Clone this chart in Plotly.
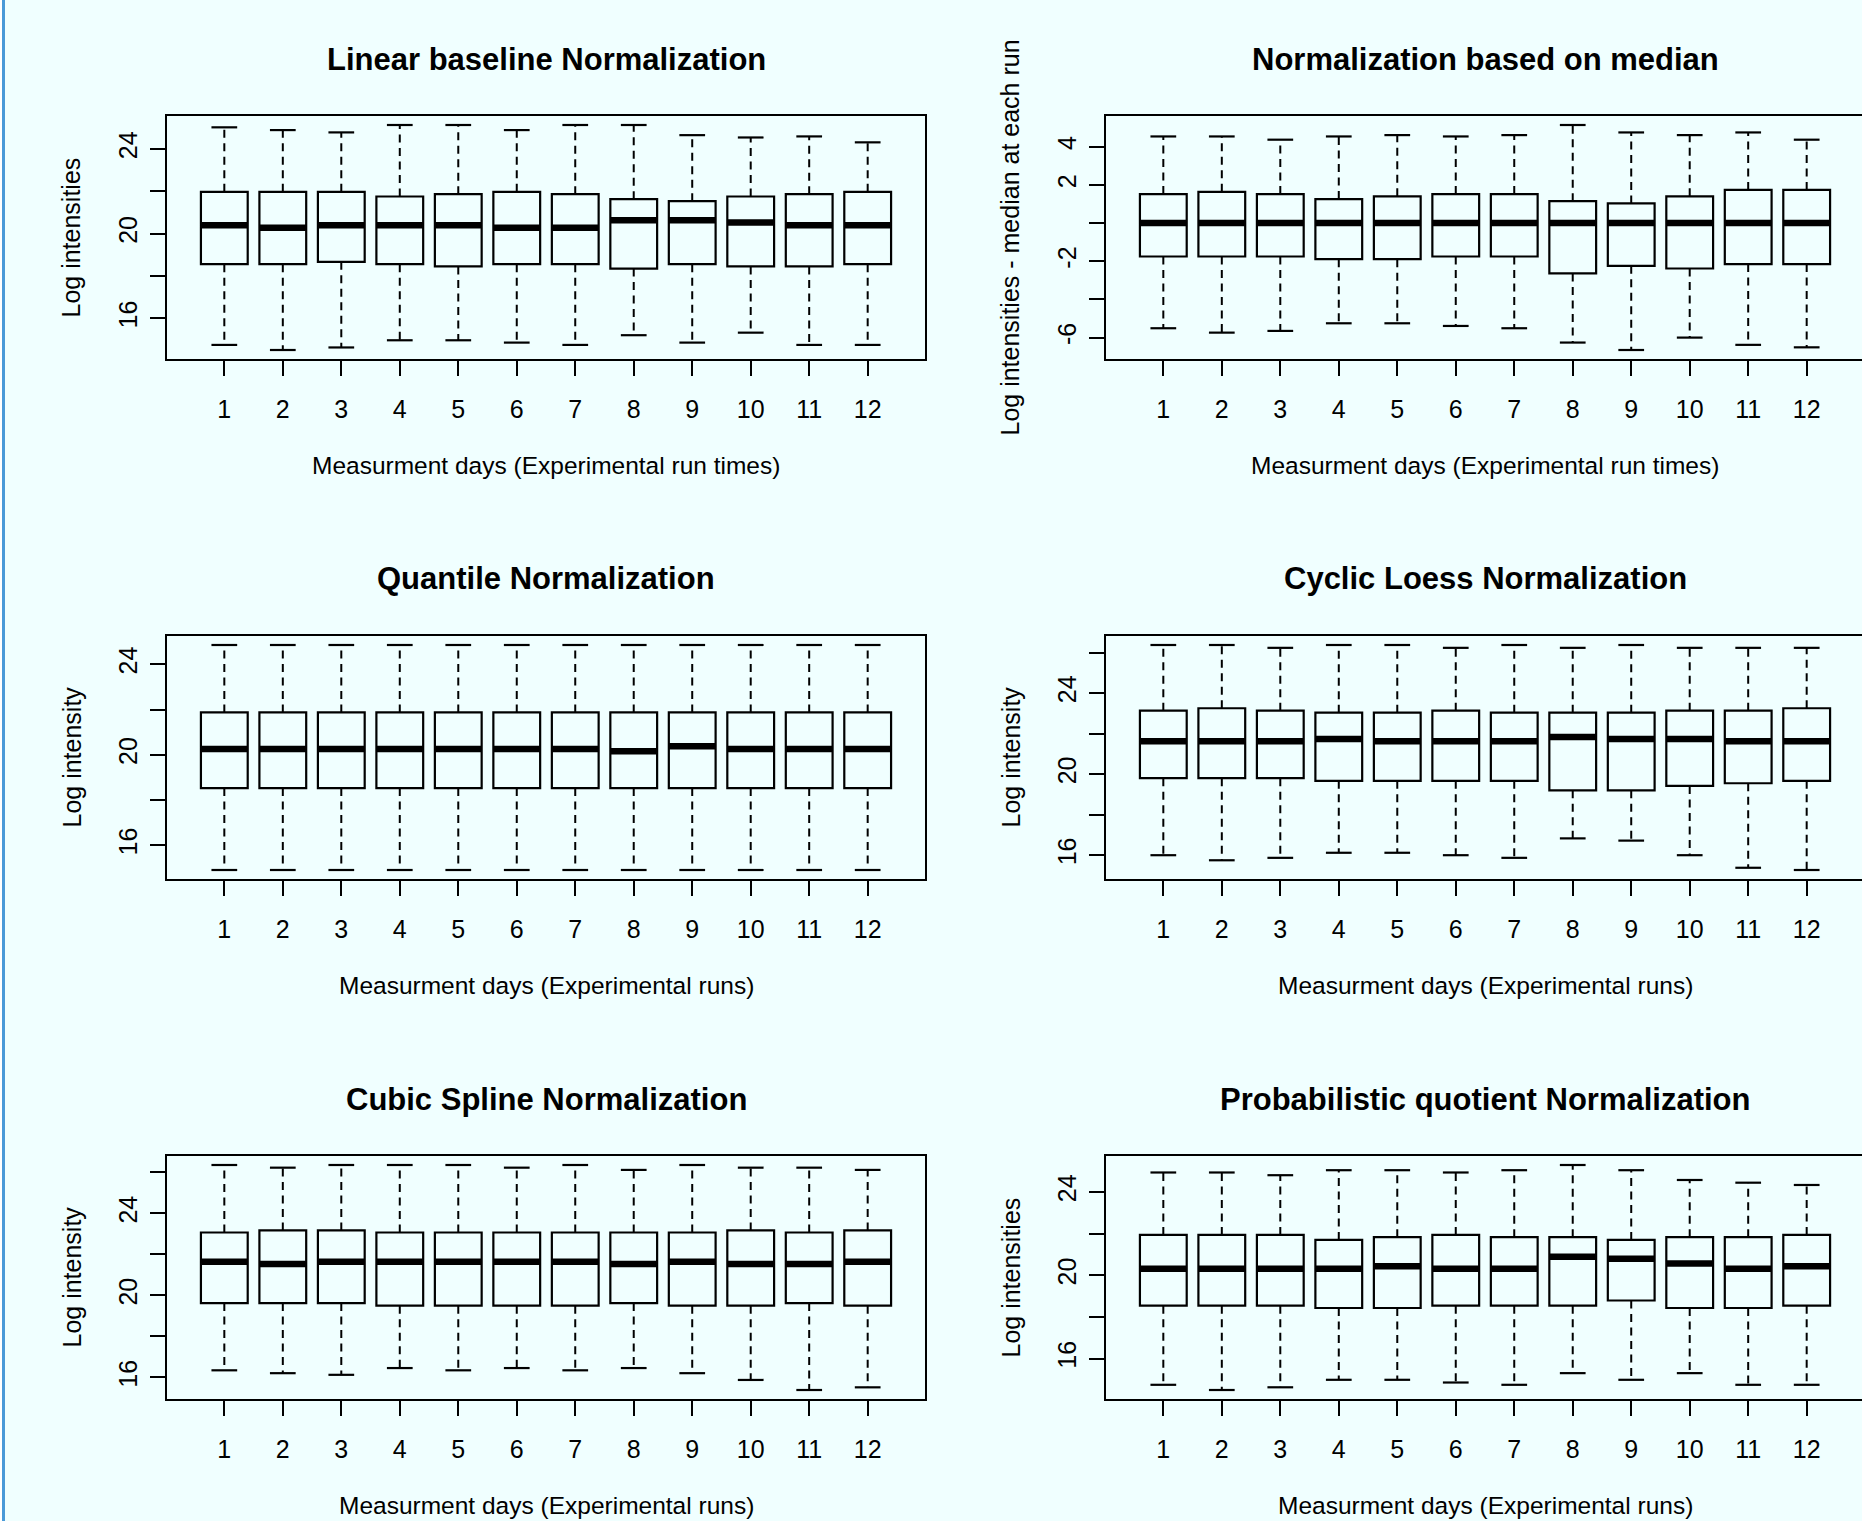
import plotly.graph_objects as go

# ---------------- data ----------------
days = list(range(1, 13))
day_labels = [str(d) for d in days]

titles = [
    "Linear baseline Normalization",
    "Normalization based on median",
    "Quantile Normalization",
    "Cyclic Loess Normalization",
    "Cubic Spline Normalization",
    "Probabilistic quotient Normalization",
]
xlabels = [
    "Measurment days (Experimental run times)",
    "Measurment days (Experimental run times)",
    "Measurment days (Experimental runs)",
    "Measurment days (Experimental runs)",
    "Measurment days (Experimental runs)",
    "Measurment days (Experimental runs)",
]
ylabels = [
    "Log intensities",
    "Log intensities - median at each run",
    "Log intensity",
    "Log intensity",
    "Log intensity",
    "Log intensities",
]

# Linear baseline normalization
lb_hi = [25.03, 24.90, 24.79, 25.14, 25.14, 24.90, 25.14, 25.14, 24.66, 24.55, 24.60, 24.32]
lb_q3 = [21.98, 21.98, 21.98, 21.76, 21.87, 21.98, 21.87, 21.63, 21.54, 21.76, 21.87, 21.98]
lb_med = [20.40, 20.28, 20.40, 20.40, 20.40, 20.28, 20.28, 20.64, 20.64, 20.53, 20.40, 20.40]
lb_q1 = [18.56, 18.56, 18.67, 18.56, 18.45, 18.56, 18.56, 18.35, 18.56, 18.45, 18.45, 18.56]
lb_lo = [14.74, 14.50, 14.62, 14.96, 14.96, 14.85, 14.74, 15.20, 14.85, 15.32, 14.74, 14.74]

# Median-based normalization
md_hi = [4.54, 4.54, 4.37, 4.54, 4.61, 4.54, 4.61, 5.14, 4.75, 4.61, 4.75, 4.37]
md_q3 = [1.52, 1.64, 1.52, 1.26, 1.40, 1.52, 1.52, 1.15, 1.03, 1.40, 1.74, 1.74]
md_med = [0.0, 0.0, 0.0, 0.0, 0.0, 0.0, 0.0, 0.0, 0.0, 0.0, 0.0, 0.0]
md_q1 = [-1.75, -1.75, -1.75, -1.89, -1.89, -1.75, -1.75, -2.64, -2.24, -2.38, -2.15, -2.15]
md_lo = [-5.51, -5.74, -5.65, -5.25, -5.25, -5.39, -5.51, -6.26, -6.65, -6.00, -6.38, -6.51]

# Quantile normalization
qn_hi = [24.85, 24.85, 24.85, 24.85, 24.85, 24.85, 24.85, 24.85, 24.85, 24.85, 24.85, 24.85]
qn_q3 = [21.87, 21.87, 21.87, 21.87, 21.87, 21.87, 21.87, 21.87, 21.87, 21.87, 21.87, 21.87]
qn_med = [20.26, 20.26, 20.26, 20.26, 20.26, 20.26, 20.26, 20.16, 20.38, 20.26, 20.26, 20.26]
qn_q1 = [18.53, 18.53, 18.53, 18.53, 18.53, 18.53, 18.53, 18.53, 18.53, 18.53, 18.53, 18.53]
qn_lo = [14.91, 14.91, 14.91, 14.91, 14.91, 14.91, 14.91, 14.91, 14.91, 14.91, 14.91, 14.91]

# Cyclic loess normalization
cl_hi = [26.37, 26.37, 26.23, 26.37, 26.37, 26.23, 26.37, 26.23, 26.37, 26.23, 26.23, 26.23]
cl_q3 = [23.13, 23.25, 23.13, 23.03, 23.03, 23.13, 23.03, 23.03, 23.03, 23.13, 23.13, 23.25]
cl_med = [21.62, 21.62, 21.62, 21.73, 21.62, 21.62, 21.62, 21.83, 21.73, 21.73, 21.62, 21.62]
cl_q1 = [19.80, 19.80, 19.80, 19.67, 19.67, 19.67, 19.67, 19.20, 19.20, 19.42, 19.55, 19.67]
cl_lo = [16.00, 15.75, 15.87, 16.12, 16.12, 16.00, 15.87, 16.83, 16.72, 16.00, 15.38, 15.27]

# Cubic spline normalization
cs_hi = [26.36, 26.23, 26.36, 26.36, 26.36, 26.23, 26.36, 26.12, 26.36, 26.23, 26.23, 26.12]
cs_q3 = [23.07, 23.17, 23.17, 23.07, 23.07, 23.07, 23.07, 23.07, 23.07, 23.17, 23.07, 23.17]
cs_med = [21.64, 21.53, 21.64, 21.64, 21.64, 21.64, 21.64, 21.53, 21.64, 21.53, 21.53, 21.64]
cs_q1 = [19.63, 19.63, 19.63, 19.50, 19.50, 19.50, 19.50, 19.63, 19.50, 19.50, 19.63, 19.50]
cs_lo = [16.35, 16.21, 16.13, 16.46, 16.35, 16.46, 16.35, 16.46, 16.21, 15.88, 15.39, 15.52]

# Probabilistic quotient normalization
pq_hi = [24.94, 24.94, 24.81, 25.05, 25.05, 24.94, 25.05, 25.30, 25.05, 24.58, 24.45, 24.34]
pq_q3 = [21.94, 21.94, 21.94, 21.70, 21.83, 21.94, 21.83, 21.83, 21.70, 21.83, 21.83, 21.94]
pq_med = [20.31, 20.31, 20.31, 20.31, 20.44, 20.31, 20.31, 20.89, 20.79, 20.57, 20.31, 20.44]
pq_q1 = [18.54, 18.54, 18.54, 18.43, 18.43, 18.54, 18.54, 18.54, 18.79, 18.43, 18.43, 18.54]
pq_lo = [14.74, 14.49, 14.62, 14.98, 14.98, 14.85, 14.74, 15.30, 14.98, 15.30, 14.74, 14.74]

# y-axis ticks (R drops overlapping labels)
yt_a = [16, 18, 20, 22, 24]
yt_a_text = ["16", "", "20", "", "24"]
yt_b = [-6, -4, -2, 0, 2, 4]
yt_b_text = ["-6", "", "-2", "", "2", "4"]
yt_c = [16, 18, 20, 22, 24, 26]
yt_c_text = ["16", "", "20", "", "24", ""]

# ---------------- figure ----------------
W, H = 1862, 1521
COL_X0 = [167, 1106]
BOX_W = 758
ROW_Y0 = [116, 636, 1156]
BOX_H = 243
XLO, XHI = 0.02, 12.98
FONT = "Liberation Sans, Arial, Helvetica, sans-serif"
BG = "#F0FFFF"
LW = 2.2

panels = [
    (lb_hi, lb_q3, lb_med, lb_q1, lb_lo, yt_a, yt_a_text),
    (md_hi, md_q3, md_med, md_q1, md_lo, yt_b, yt_b_text),
    (qn_hi, qn_q3, qn_med, qn_q1, qn_lo, yt_a, yt_a_text),
    (cl_hi, cl_q3, cl_med, cl_q1, cl_lo, yt_c, yt_c_text),
    (cs_hi, cs_q3, cs_med, cs_q1, cs_lo, yt_c, yt_c_text),
    (pq_hi, pq_q3, pq_med, pq_q1, pq_lo, yt_a, yt_a_text),
]

fig = go.Figure()
layout = {}
annotations = []
BOXWEX = 0.8
STAPLE = 0.22

for k, (hi, q3, med, q1, lo, ytv, ytt) in enumerate(panels):
    row, col = k // 2, k % 2
    n = k + 1
    xa = "x" if n == 1 else f"x{n}"
    ya = "y" if n == 1 else f"y{n}"
    xkey = "xaxis" if n == 1 else f"xaxis{n}"
    ykey = "yaxis" if n == 1 else f"yaxis{n}"

    # boxes
    fig.add_trace(go.Box(
        x=days, q1=q1, median=med, q3=q3, lowerfence=q1, upperfence=q3,
        width=BOXWEX, whiskerwidth=0, fillcolor="rgba(0,0,0,0)",
        line=dict(color="black", width=LW), boxpoints=False,
        xaxis=xa, yaxis=ya, showlegend=False, hoverinfo="skip",
    ))
    # dashed whiskers
    wx, wy = [], []
    for d, a, b, c, e in zip(days, q3, hi, q1, lo):
        wx += [d, d, None, d, d, None]
        wy += [a, b, None, c, e, None]
    fig.add_trace(go.Scatter(
        x=wx, y=wy, mode="lines", xaxis=xa, yaxis=ya, showlegend=False,
        hoverinfo="skip", line=dict(color="black", width=2, dash="8px,5.5px"),
    ))
    # staples
    sx, sy = [], []
    for d, b, e in zip(days, hi, lo):
        sx += [d - STAPLE, d + STAPLE, None, d - STAPLE, d + STAPLE, None]
        sy += [b, b, None, e, e, None]
    fig.add_trace(go.Scatter(
        x=sx, y=sy, mode="lines", xaxis=xa, yaxis=ya, showlegend=False,
        hoverinfo="skip", line=dict(color="black", width=LW),
    ))
    # thick medians
    mx, my = [], []
    for d, m in zip(days, med):
        mx += [d - BOXWEX / 2, d + BOXWEX / 2, None]
        my += [m, m, None]
    fig.add_trace(go.Scatter(
        x=mx, y=my, mode="lines", xaxis=xa, yaxis=ya, showlegend=False,
        hoverinfo="skip", line=dict(color="black", width=6.5),
    ))

    x0 = COL_X0[col]
    x1 = min(x0 + BOX_W, W)
    units_per_px = (XHI - XLO) / BOX_W
    xr = [XLO, XLO + (x1 - x0) * units_per_px]
    ymin, ymax = min(lo), max(hi)
    pad = 0.04 * (ymax - ymin)
    yr = [ymin - pad, ymax + pad]
    y0p = ROW_Y0[row]
    y1p = y0p + BOX_H

    layout[xkey] = dict(
        domain=[x0 / W, x1 / W], range=xr, anchor=ya,
        tickmode="array", tickvals=days, ticktext=day_labels,
        ticks="outside", ticklen=15, tickwidth=LW, tickcolor="black",
        showline=True, linecolor="black", linewidth=LW, mirror=True,
        showgrid=False, zeroline=False, ticklabelstandoff=12,
        tickfont=dict(family=FONT, size=25, color="black"),
    )
    layout[ykey] = dict(
        domain=[1 - y1p / H, 1 - y0p / H], range=yr, anchor=xa,
        tickmode="array", tickvals=ytv, ticktext=ytt, tickangle=-90,
        ticks="outside", ticklen=15, tickwidth=LW, tickcolor="black",
        showline=True, linecolor="black", linewidth=LW,
        mirror=(col == 0), showgrid=False, zeroline=False,
        ticklabelstandoff=3,
        tickfont=dict(family=FONT, size=25, color="black"),
    )

    cx = (x0 + BOX_W / 2) / W
    annotations.append(dict(
        text="<b>" + titles[k] + "</b>", x=cx, y=1 - (y0p - 57) / H,
        xref="paper", yref="paper", xanchor="center", yanchor="middle",
        showarrow=False, font=dict(family=FONT, size=31, color="black"),
    ))
    annotations.append(dict(
        text=xlabels[k], x=cx, y=1 - (y1p + 106) / H,
        xref="paper", yref="paper", xanchor="center", yanchor="middle",
        showarrow=False, font=dict(family=FONT, size=24.5, color="black"),
    ))
    annotations.append(dict(
        text=ylabels[k], x=(x0 - 96) / W, y=1 - (y0p + BOX_H / 2) / H,
        xref="paper", yref="paper", xanchor="center", yanchor="middle",
        textangle=-90, showarrow=False,
        font=dict(family=FONT, size=25, color="black"),
    ))

shapes = [
    dict(type="rect", xref="paper", yref="paper", x0=0, x1=2 / W, y0=0, y1=1,
         fillcolor="white", line=dict(width=0), layer="above"),
    dict(type="rect", xref="paper", yref="paper", x0=2 / W, x1=5 / W, y0=0, y1=1,
         fillcolor="#4A9AD8", line=dict(width=0), layer="above"),
]

fig.update_layout(
    width=W, height=H, margin=dict(l=0, r=0, t=0, b=0),
    paper_bgcolor=BG, plot_bgcolor=BG, showlegend=False,
    annotations=annotations, shapes=shapes, **layout,
)

fig.write_html(
    "out.html",
    config={"displayModeBar": False},
    post_script="document.body.style.margin='0px';document.body.style.overflow='hidden';",
)
